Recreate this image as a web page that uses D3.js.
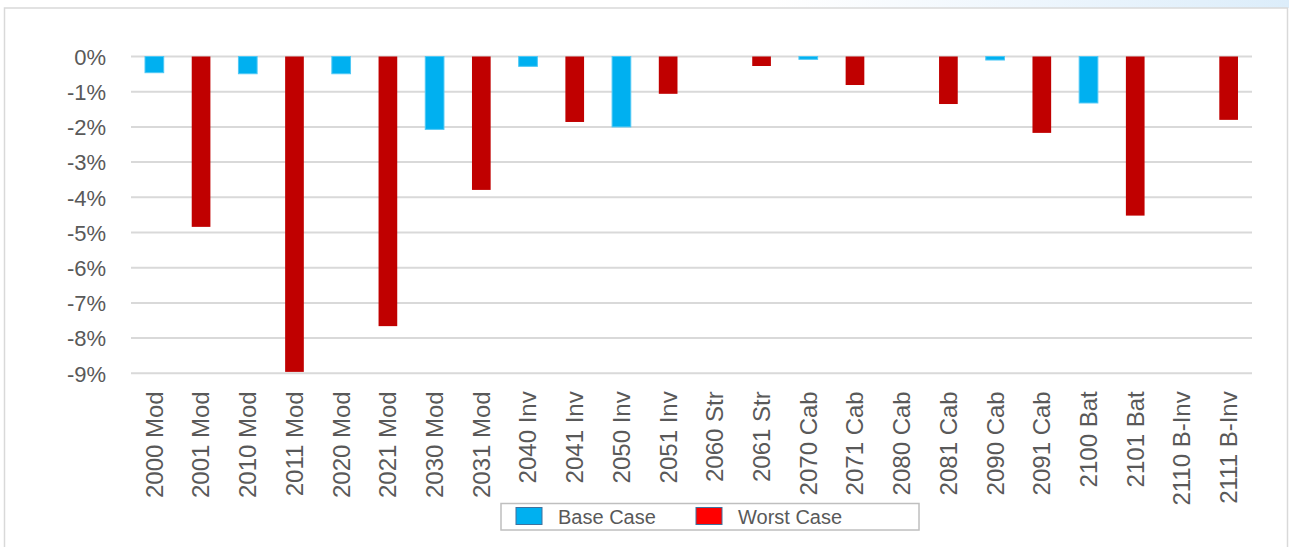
<!DOCTYPE html>
<html>
<head>
<meta charset="utf-8">
<script src="https://cdn.jsdelivr.net/npm/d3@7"></script>
<style>
  html, body { margin: 0; padding: 0; background: #fff; }
  svg { display: block; }
</style>
</head>
<body>
<svg id="chart" width="1289" height="547"></svg>
<script>
const categories = ["2000 Mod","2001 Mod","2010 Mod","2011 Mod","2020 Mod","2021 Mod","2030 Mod","2031 Mod",
  "2040 Inv","2041 Inv","2050 Inv","2051 Inv","2060 Str","2061 Str","2070 Cab","2071 Cab",
  "2080 Cab","2081 Cab","2090 Cab","2091 Cab","2100 Bat","2101 Bat","2110 B-Inv","2111 B-Inv"];
const baseCase  = [-0.46,null,-0.49,null,-0.49,null,-2.07,null,-0.28,null,-2.00,null,0,null,-0.08,null,0,null,-0.10,null,-1.32,null,0,null];
const worstCase = [null,-4.84,null,-8.96,null,-7.66,null,-3.79,null,-1.86,null,-1.06,null,-0.27,null,-0.81,null,-1.35,null,-2.17,null,-4.52,null,-1.80];
const yTicks = [0,-1,-2,-3,-4,-5,-6,-7,-8,-9];
const seriesNames = ["Base Case","Worst Case"];

const svg = d3.select("#chart");
const W = 1289, H = 547;
const plotLeft = 131, plotRight = 1252, plotTop = 56.5, plotBottom = 373.3;
const textColor = "#595959";
const font = "'Liberation Sans', Arial, sans-serif";

// top gradient band & outer border
const defs = svg.append("defs");
const grad = defs.append("linearGradient").attr("id","topband").attr("x1","0").attr("x2","1");
grad.append("stop").attr("offset","0").attr("stop-color","#ffffff");
grad.append("stop").attr("offset","0.6").attr("stop-color","#ffffff");
grad.append("stop").attr("offset","0.8").attr("stop-color","#EEF6FD");
grad.append("stop").attr("offset","1").attr("stop-color","#DCEDFA");
svg.append("rect").attr("x",0).attr("y",0).attr("width",W).attr("height",8).attr("fill","url(#topband)");
svg.append("rect").attr("x",4.5).attr("y",8).attr("width",1283).attr("height",H+10)
  .attr("fill","#fff").attr("stroke","#D9D9D9").attr("stroke-width",1.5);

const x = d3.scaleBand().domain(categories).range([plotLeft, plotRight]).padding(0);
const y = d3.scaleLinear().domain([0, -9]).range([plotTop, plotBottom]);
const barW = x.bandwidth() * 0.4;

// gridlines
svg.append("g").selectAll("line").data(yTicks).join("line")
  .attr("x1", plotLeft).attr("x2", plotRight)
  .attr("y1", d => y(d)).attr("y2", d => y(d))
  .attr("stroke", "#D9D9D9").attr("stroke-width", 2);

// y axis labels
const yAxis = d3.axisLeft(y).tickValues(yTicks).tickSize(0).tickPadding(0)
  .tickFormat(d => (d < 0 ? "-" + Math.abs(d) : "" + d) + "%");
const yg = svg.append("g").attr("transform", `translate(${plotLeft - 25},0)`).call(yAxis);
yg.select(".domain").remove();
yg.selectAll("text").attr("fill", textColor).attr("font-family", font).attr("font-size", 22)
  .attr("dy", "0.35em");

// bars
const colors = ["#00B0F0", "#C00000"];
const strokes = ["#4FC8F5", "none"];
[baseCase, worstCase].forEach((vals, s) => {
  svg.append("g").selectAll("rect")
    .data(vals.map((v, i) => ({v, c: categories[i]})).filter(d => d.v !== null && d.v !== 0))
    .join("rect")
    .attr("x", d => x(d.c) + x.bandwidth()/2 - barW/2)
    .attr("width", barW)
    .attr("y", d => y(0))
    .attr("height", d => y(d.v) - y(0))
    .attr("fill", colors[s])
    .attr("stroke", strokes[s]).attr("stroke-width", 1);
});

// x labels
const xAxis = d3.axisBottom(x).tickSize(0).tickPadding(0);
const xg = svg.append("g").attr("transform", `translate(0,${plotBottom})`).call(xAxis);
xg.select(".domain").remove();
xg.selectAll("text")
  .attr("fill", textColor).attr("font-family", font).attr("font-size", 24)
  .attr("text-anchor", "end")
  .attr("transform", "rotate(-90)")
  .attr("x", -18).attr("y", 0).attr("dy", "0.35em");

// legend
const lg = svg.append("g");
lg.append("rect").attr("x", 501).attr("y", 503.5).attr("width", 418).attr("height", 26.5)
  .attr("fill", "#fff").attr("stroke", "#BFBFBF").attr("stroke-width", 1.5);
const legendFill = ["#00B0F0", "#FF0000"];
const legendX = [516, 696];
seriesNames.forEach((n, i) => {
  lg.append("rect").attr("x", legendX[i]).attr("y", 507.5).attr("width", 26).attr("height", 17)
    .attr("fill", legendFill[i]).attr("stroke", "#41719C").attr("stroke-width", 1);
  lg.append("text").attr("x", legendX[i] + 42).attr("y", 524)
    .attr("fill", textColor).attr("font-family", font).attr("font-size", 20).text(n);
});
</script>
</body>
</html>
